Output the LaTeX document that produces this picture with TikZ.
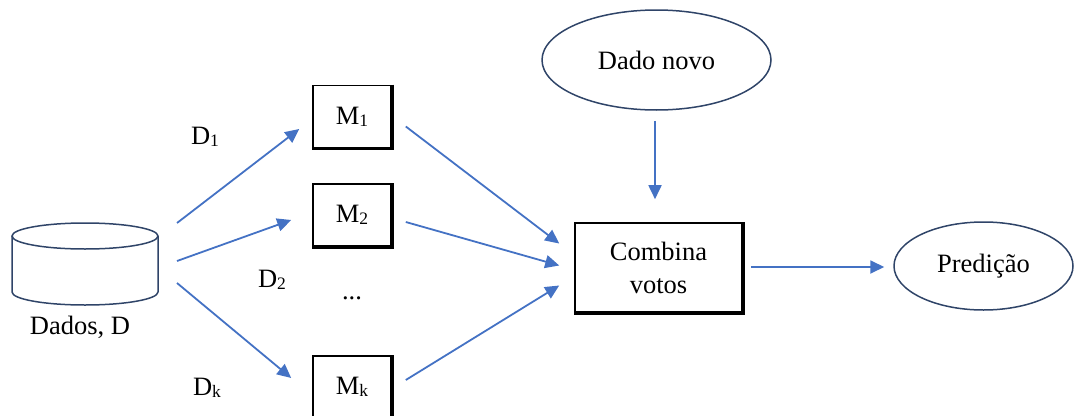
\documentclass[tikz,border=0pt]{standalone}
\usepackage{fontspec}
\setmainfont{Liberation Serif}
\usetikzlibrary{arrows.meta,shapes.geometric}
\definecolor{arrowblue}{HTML}{4472C4}
\definecolor{outline}{HTML}{2F4468}
% small lowered index, as in M_1, D_k
\newcommand\subidx[1]{\raisebox{-2pt}{\fontsize{17.5}{17.5}\selectfont #1}}

\begin{document}
\begin{tikzpicture}[x=1pt,y=-1pt,
  font=\fontsize{26.5}{33}\selectfont,
  arr/.style={draw=arrowblue, line width=1.8pt, -{Triangle[length=14pt,width=13pt]}},
  modelbox/.style={draw=black, line width=1.6pt, minimum width=78pt, minimum height=62pt, inner sep=0pt},
  boxedge/.style={draw=black, line width=2.2pt, line join=miter},
  oval/.style={ellipse, draw=outline, line width=1.5pt, inner sep=0pt},
  cyl/.style={draw=outline, line width=1.5pt},
  lbl/.style={inner sep=0pt}]
\useasboundingbox (0,0) rectangle (1076,415);

% data store (cylinder)
\draw[cyl] (85,236) ellipse [x radius=73pt, y radius=13pt];
\draw[cyl] (12,236) -- (12,292) arc[start angle=180, end angle=360, x radius=73pt, y radius=13pt] -- (158,236);
\node[lbl] (dados) at (80,327) {Dados, D};
\coordinate (s1) at (177,223);
\coordinate (s2) at (177,261);
\coordinate (s3) at (177,283);

% models
\node[modelbox] (m1) at (352,116.5) {M\subidx{1}};
\node[modelbox] (m2) at (352,215) {M\subidx{2}};
\node[modelbox] (mk) at (352,387) {M\subidx{k}};
\node[lbl] (dots) at (352,298) {...};

% bootstrap sample labels
\node[lbl] (d1) at (205,137) {D\subidx{1}};
\node[lbl] (d2) at (272,280) {D\subidx{2}};
\node[lbl] (dk) at (207,388) {D\subidx{k}};

% vote combination, new data, prediction
\node[modelbox, minimum width=167pt, minimum height=89pt, align=center] (comb) at (658.5,267.5) {Combina\\votos};
\node[oval, minimum width=229pt, minimum height=100pt] (novo) at (656.5,60) {Dado novo};
\node[oval, minimum width=179pt, minimum height=88pt] (pred) at (983.5,266) {Predição};

% heavier right and bottom edges of the boxes
\foreach \b in {m1,m2,mk,comb}
  \draw[boxedge] ([shift={(0.6,0)}]\b.north east) -- ([shift={(0.6,0.6)}]\b.south east) -- ([shift={(0,0.6)}]\b.south west);

% data to models
\draw[arr] (s1) -- ([shift={(-13,12.5)}]m1.west);
\draw[arr] (s2) -- ([shift={(-21,5)}]m2.west);
\draw[arr] (s3) -- ([shift={(-21,-9)}]mk.west);

% models to combination
\draw[arr] ([shift={(14,10)}]m1.east) -- ([shift={(-15,-24)}]comb.west);
\draw[arr] ([shift={(14,7)}]m2.east) -- ([shift={(-15,-2)}]comb.west);
\draw[arr] ([shift={(14,-7)}]mk.east) -- ([shift={(-15,18)}]comb.west);

% new data and output
\draw[arr] ([shift={(-1.5,10)}]novo.south) -- ([shift={(-3.5,-23)}]comb.north);
\draw[arr] ([shift={(8,-0.5)}]comb.east) -- ([shift={(-9,1)}]pred.west);
\end{tikzpicture}
\end{document}
